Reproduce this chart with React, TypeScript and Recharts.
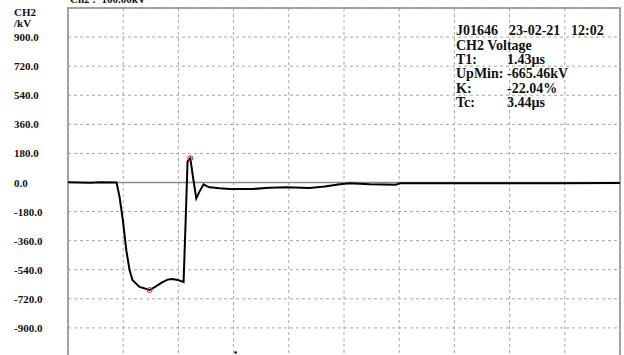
import {
  LineChart,
  Line,
  XAxis,
  YAxis,
  CartesianGrid,
  ReferenceLine,
  ReferenceArea,
  ReferenceDot,
} from "recharts";

// time in µs (5 µs per division), voltage in kV
const times = [
  0, 1, 2, 3, 4.4, 4.67, 4.97, 5.28, 5.58, 5.85, 6.48, 7.39, 8.0, 8.48, 9.02, 9.47, 9.93,
  10.47, 10.65, 10.83, 11.08, 11.33, 11.62, 11.92, 12.28, 12.56, 12.83, 13.73, 14.64, 16.73,
  18.27, 19.81, 21.89, 23.25, 24.62, 25.53, 27.33, 29.69, 30.06, 34.59, 39.12, 44.56, 50,
];
const volts = [
  2, 0, -1, 1, 0, -90, -233, -419, -543, -605, -646, -665.46, -641, -620, -601, -598, -603,
  -616, -250, 130, 150, 30, -98, -55, -11, -22, -30, -36, -40, -40,
  -33, -30, -34, -25, -11, -5, -11, -14, -5, -4, -5, -4, -3,
];
const yTicks = [900, 720, 540, 360, 180, 0, -180, -360, -540, -720, -900];
const xTicks = [5, 10, 15, 20, 25, 30, 35, 40, 45];
const minPoint = { t: 7.39, v: -665.46 };
const peakPoint = { t: 11.08, v: 150 };
const infoRows = [
  ["CH2 Voltage", ""],
  ["T1:", "1.43µs"],
  ["UpMin:", "-665.46kV"],
  ["K:", "-22.04%"],
  ["Tc:", "3.44µs"],
];

const data = times.map((t, i) => ({ t, v: volts[i] }));

const font = "'Liberation Serif', 'Times New Roman', serif";

function LeftTick(props: any) {
  const { y, payload } = props;
  return (
    <text x={14} y={y} dy={4} textAnchor="start" fontFamily={font} fontWeight="bold" fontSize={11} fill="#111">
      {payload.value.toFixed(1)}
    </text>
  );
}

export default function App() {
  const row = { position: "absolute" as const, fontSize: 14, fontWeight: "bold" as const, lineHeight: "13px", color: "#111", whiteSpace: "pre" as const };
  return (
    <div style={{ position: "absolute", left: 0, top: 0, width: 624, height: 355, overflow: "hidden", background: "#fff", fontFamily: font }}>
      <LineChart width={624} height={360} data={data} margin={{ top: 8, right: 4, left: 0, bottom: 3 }}>
        <CartesianGrid stroke="#a8a8a8" strokeDasharray="3 3" />
        <XAxis dataKey="t" type="number" domain={[0, 50]} ticks={xTicks} hide />
        <YAxis
          type="number"
          domain={[-1080, 1080]}
          ticks={yTicks}
          width={68}
          axisLine={false}
          tickLine={false}
          tick={<LeftTick />}
          interval={0}
        />
        <ReferenceArea x1={0} x2={50} y1={-1080} y2={1080} stroke="#8a8a8a" strokeWidth={1.5} fill="none" ifOverflow="visible" />
        <ReferenceLine y={0} stroke="#8a8a8a" strokeWidth={1.5} />
        <Line
          type="linear"
          dataKey="v"
          stroke="#000"
          strokeWidth={2}
          dot={false}
          isAnimationActive={false}
        />
        <ReferenceDot x={minPoint.t} y={minPoint.v} r={2.5} stroke="#e02020" strokeWidth={1} fill="none" />
        <ReferenceDot x={peakPoint.t} y={peakPoint.v} r={2.5} stroke="#e02020" strokeWidth={1} fill="none" />
        <ReferenceDot x={15.19} y={-1052} r={1.3} stroke="none" fill="#000" />
      </LineChart>

      <div style={{ position: "absolute", left: 70, top: -7, fontSize: 11, fontWeight: "bold", whiteSpace: "pre", color: "#111" }}>
        {"Ch2 :  100.00kV"}
      </div>
      <div style={{ position: "absolute", left: 14, top: 7, fontSize: 11, fontWeight: "bold", lineHeight: "11px", color: "#111" }}>
        CH2
        <br />
        /kV
      </div>

      <div style={{ ...row, left: 456, top: 24 }}>J01646</div>
      <div style={{ ...row, left: 509, top: 24 }}>23-02-21</div>
      <div style={{ ...row, left: 571, top: 24 }}>12:02</div>
      {infoRows.map(([k, v], i) => (
        <div key={k}>
          <div style={{ ...row, left: 456, top: 38.5 + i * 14.4 }}>{k}</div>
          {v && <div style={{ ...row, left: 507, top: 38.5 + i * 14.4 }}>{v}</div>}
        </div>
      ))}
    </div>
  );
}
